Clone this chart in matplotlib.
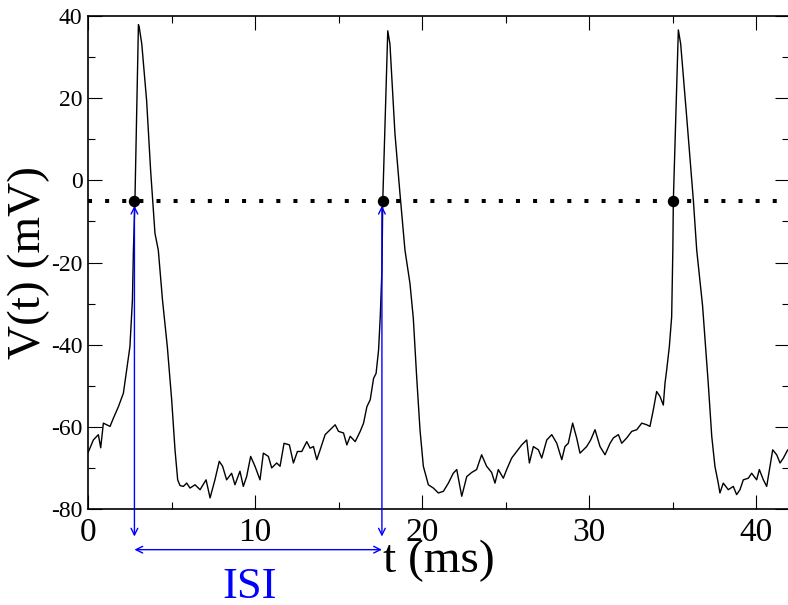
import matplotlib
matplotlib.use("Agg")
from matplotlib import pyplot as plt
from matplotlib.ticker import MultipleLocator

plt.rcParams['font.family'] = ['Liberation Serif', 'DejaVu Serif']
plt.rcParams['axes.unicode_minus'] = False

# membrane potential trace
t_ms = [0.0, 0.32, 0.62, 0.76, 0.92, 1.32, 1.52, 1.82, 2.12, 2.31, 2.51, 2.66,
        2.72, 2.81, 3.02, 3.07, 3.22, 3.51, 3.75, 4.01, 4.21, 4.46, 4.75, 5.01,
        5.21, 5.37, 5.51, 5.71, 5.91, 6.11, 6.41, 6.71, 7.07, 7.31, 7.60, 7.86,
        8.06, 8.30, 8.60, 8.80, 9.10, 9.30, 9.50, 9.74, 10.0, 10.3, 10.5, 10.8,
        11.0, 11.3, 11.5, 11.74, 12.06, 12.3, 12.54, 12.8, 13.1, 13.3, 13.5, 13.7,
        13.9, 14.2, 14.5, 14.8, 15.0, 15.3, 15.5, 15.7, 16.0, 16.3, 16.5, 16.7,
        16.9, 17.1, 17.25, 17.4, 17.5, 17.6, 17.65, 17.95, 18.08, 18.38, 18.68,
        18.98, 19.28, 19.48, 19.68, 19.88, 20.08, 20.38, 20.68, 20.98, 21.28,
        21.58, 21.87, 22.08, 22.38, 22.68, 22.98, 23.27, 23.57, 23.87, 24.17,
        24.37, 24.57, 24.87, 25.07, 25.37, 25.67, 25.97, 26.27, 26.43, 26.67,
        26.97, 27.17, 27.47, 27.77, 28.07, 28.37, 28.56, 28.76, 29.02, 29.26,
        29.46, 29.66, 29.86, 30.1, 30.36, 30.66, 30.96, 31.26, 31.46, 31.76,
        31.96, 32.26, 32.56, 32.86, 33.16, 33.46, 33.65, 33.85, 34.05, 34.25,
        34.45, 34.55, 34.65, 34.81, 34.95, 35.02, 35.05, 35.35, 35.49, 35.85,
        36.25, 36.45, 36.8, 37.14, 37.35, 37.54, 37.74, 37.84, 38.04, 38.34,
        38.64, 38.84, 39.04, 39.24, 39.54, 39.74, 40.04, 40.2, 40.44, 40.64,
        40.84, 41.0, 41.24, 41.44, 41.64, 41.9, 42.0]
v_mv = [-66.3, -63.2, -61.9, -65.1, -59.1, -59.9, -57.9, -55.1, -51.8, -46.2,
        -40.5, -29.1, -17.0, -5.0, 37.9, 37.2, 33.2, 19.4, 2.4, -12.9, -17.0,
        -29.1, -40.5, -53.4, -65.6, -72.9, -74.3, -74.5, -73.7, -74.9, -74.1,
        -75.3, -72.9, -77.3, -72.9, -68.4, -69.6, -72.9, -71.3, -74.1, -70.8,
        -74.5, -72.1, -67.2, -69.6, -72.9, -66.4, -67.2, -70.0, -68.8, -69.6,
        -64.0, -64.4, -68.8, -66.0, -66.0, -63.6, -65.2, -64.8, -68.0, -65.6,
        -61.9, -60.7, -59.5, -61.1, -61.5, -64.4, -62.3, -63.6, -61.1, -59.1,
        -55.1, -53.4, -48.2, -47.0, -41.3, -33.2, -21.9, -5.0, 36.4, 33.2,
        11.4, -3.2, -17.0, -25.1, -33.6, -47.8, -60.7, -69.6, -74.1, -74.9,
        -76.1, -75.7, -73.7, -71.3, -70.4, -76.9, -72.1, -71.1, -70.4, -66.8,
        -69.6, -71.1, -73.7, -70.4, -72.5, -70.4, -67.6, -66.0, -64.4, -63.2,
        -68.8, -64.8, -65.6, -67.6, -63.2, -61.9, -64.0, -68.0, -64.8, -64.0,
        -59.1, -62.7, -66.4, -65.6, -64.8, -63.2, -60.7, -64.8, -66.8, -64.0,
        -62.7, -61.9, -64.0, -62.7, -61.1, -60.7, -59.1, -59.5, -59.9, -55.9,
        -51.4, -52.6, -54.7, -49.4, -46.2, -40.5, -33.2, -17.0, -5.0, 36.6,
        33.2, 15.4, -4.9, -17.0, -30.5, -49.4, -62.3, -69.6, -73.7, -76.1,
        -73.7, -75.3, -74.5, -76.5, -75.3, -72.9, -72.5, -71.3, -72.9, -70.4,
        -72.9, -74.5, -69.6, -65.6, -66.8, -68.8, -67.6, -65.6, -66.0]

threshold = -5.0
spike_t = [2.78, 17.65, 35.04]
isi_start = 2.78
isi_end = 17.6

fig = plt.figure(figsize=(7.88, 6.05), dpi=100)
ax = fig.add_axes([88 / 788, 96 / 605, 701.4 / 788, 493 / 605])

ax.plot(t_ms, v_mv, color='black', lw=1.0)
ax.axhline(threshold, color='black', lw=2.9, linestyle=(0, (1, 3.25)))
ax.plot(spike_t, [threshold] * len(spike_t), 'o', color='black', ms=7.2,
        zorder=5)

ax.set_xlim(0, 42)
ax.set_ylim(-80, 40)
ax.xaxis.set_major_locator(MultipleLocator(10))
ax.xaxis.set_minor_locator(MultipleLocator(5))
ax.yaxis.set_major_locator(MultipleLocator(20))
ax.yaxis.set_minor_locator(MultipleLocator(10))
ax.tick_params(which='both', direction='in', top=True, right=True, width=0.8)
ax.tick_params(which='major', length=10)
ax.tick_params(which='minor', length=5)
ax.tick_params(axis='x', labelsize=24, pad=6)
ax.tick_params(axis='y', labelsize=17, pad=4)
for s in ax.spines.values():
    s.set_linewidth(1.2)

ax.set_xlabel('t (ms)', fontsize=34)
ax.xaxis.set_label_coords(0.5, -0.062)
ax.set_ylabel('V(t) (mV)', fontsize=34)
ax.yaxis.set_label_coords(-0.054, 0.5)

# ISI annotation in blue
blue = '#0000ff'
arrow = dict(arrowstyle='<->', color=blue, lw=1.0, mutation_scale=12,
             shrinkA=0, shrinkB=0)
for x in (isi_start, isi_end):
    ax.annotate('', xy=(x, threshold - 1.2), xytext=(x, -86.7),
                arrowprops=arrow, annotation_clip=False)
ax.annotate('', xy=(isi_start, -89.9), xytext=(isi_end, -89.9),
            arrowprops=arrow, annotation_clip=False)
ax.text(9.7, -101.6, 'ISI', color=blue, fontsize=32, ha='center',
        va='baseline', clip_on=False)

fig.savefig('out.png', dpi=100)
